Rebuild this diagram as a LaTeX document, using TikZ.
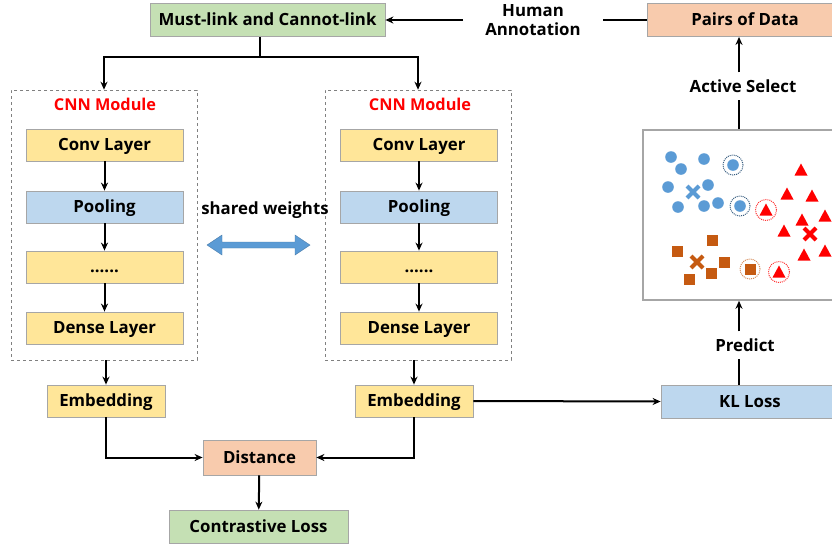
\documentclass[tikz,border=0pt]{standalone}
\usepackage{fontspec}
\setmainfont{Open Sans}
\usetikzlibrary{arrows.meta}
\definecolor{cgreen}{HTML}{C5E0B4}
\definecolor{corange}{HTML}{F8CBAD}
\definecolor{cyellow}{HTML}{FFE699}
\definecolor{cblue}{HTML}{BDD7EE}
\definecolor{cdot}{HTML}{5B9BD5}
\definecolor{cbrown}{HTML}{C55A11}
\definecolor{cborder}{HTML}{A6A6A6}
\begin{document}
\begin{tikzpicture}[x=1pt,y=-1pt,
  box/.style={draw=cborder, line width=0.8pt, minimum height=33pt, inner sep=0pt,
    text height=12pt, text depth=0.5pt,
    font=\bfseries\fontsize{16.8}{18}\selectfont},
  lbl/.style={font=\bfseries\fontsize{16.8}{19}\selectfont, inner sep=0pt},
  arr/.style={line width=2pt, -{Stealth[length=8pt,width=7pt]}},
  ln/.style={line width=2pt},
  dbox/.style={draw=gray, dashed, line width=0.6pt, minimum width=186pt, minimum height=270pt, inner sep=0pt},
]
\useasboundingbox (0,0) rectangle (832,547);
\fill[white] (0,0) rectangle (832,547);

% top row
\node[box, fill=cgreen, minimum width=235pt] (ml) at (267.5,20) {Must-link and Cannot-link};
\node[box, fill=corange, minimum width=196pt] (pd) at (745,20) {Pairs of Data};
\node[lbl, align=center, inner xsep=22pt] (ha) at (533,20) {Human\\Annotation};
\draw[ln] (pd.west) -- (ha.east);
\draw[arr] (ha.west) -- (ml.east);

% split to the two CNN modules
\node[dbox] (cl) at (104,225) {};
\node[dbox] (cr) at (418,225) {};
\coordinate (split) at (260,57);
\draw[ln] (ml.south -| split) -- (split);
\draw[arr] (split) -| (cl.north);
\draw[arr] (split) -| (cr.north);

\node[lbl, text=red, font=\bfseries\fontsize{16.3}{18}\selectfont] (tl) at (105,104) {CNN Module};
\node[lbl, text=red, font=\bfseries\fontsize{16.3}{18}\selectfont] (tr) at (420,104) {CNN Module};

% left column
\node[box, fill=cyellow, minimum width=157pt, minimum height=32pt] (l1) at (104.5,145) {Conv Layer};
\node[box, fill=cblue,   minimum width=157pt, minimum height=32pt] (l2) at (104.5,207) {Pooling};
\node[box, fill=cyellow, minimum width=157pt, minimum height=32pt] (l3) at (104.5,267) {......};
\node[box, fill=cyellow, minimum width=157pt, minimum height=32pt] (l4) at (104.5,328) {Dense Layer};
\draw[arr] (l1) -- (l2);
\draw[arr] (l2) -- (l3);
\draw[arr] (l3) -- (l4);

% right column
\node[box, fill=cyellow, minimum width=157pt, minimum height=32pt] (r1) at (419,145) {Conv Layer};
\node[box, fill=cblue,   minimum width=157pt, minimum height=32pt] (r2) at (419,207) {Pooling};
\node[box, fill=cyellow, minimum width=157pt, minimum height=32pt] (r3) at (419,267) {......};
\node[box, fill=cyellow, minimum width=157pt, minimum height=32pt] (r4) at (419,328) {Dense Layer};
\draw[arr] (r1) -- (r2);
\draw[arr] (r2) -- (r3);
\draw[arr] (r3) -- (r4);

% shared weights
\node[lbl] (sw) at (265,210) {shared weights};
\fill[cdot, draw=cdot!80!black, line width=0.4pt] (207,245) -- (222,235) -- (222,242) -- (295,242) -- (295,235) -- (310,245) -- (295,255) -- (295,248) -- (222,248) -- (222,255) -- cycle;

% embeddings
\node[box, fill=cyellow, minimum width=118pt, minimum height=32pt] (el) at (106,401) {Embedding};
\node[box, fill=cyellow, minimum width=118pt, minimum height=32pt] (er) at (414,401) {Embedding};
\draw[arr] (cl.south -| el.north) -- (el.north);
\draw[arr] (cr.south -| er.north) -- (er.north);

\node[box, fill=corange, minimum width=113pt, minimum height=35pt] (di) at (259.5,457.5) {Distance};
\node[box, fill=cgreen, minimum width=179pt, minimum height=33pt] (co) at (258.5,526.5) {Contrastive Loss};
\draw[arr] (el.south) |- (di.west);
\draw[arr] (er.south) |- (di.east);
\draw[arr] (di) -- (co);

% KL loss branch
\node[box, fill=cblue, minimum width=178pt, minimum height=33pt] (kl) at (750,401.5) {KL Loss};
\draw[arr] (er.east) -- (kl.west);

\node[draw=cborder, line width=1.6pt, minimum width=192pt, minimum height=170pt, inner sep=0pt] (plot) at (739,215) {};
\node[lbl, inner ysep=7pt] (pr) at (745,345) {Predict};
\draw[ln] (kl.north -| plot.south) -- (pr.south -| plot.south);
\draw[arr] (pr.north -| plot.south) -- (plot.south);
\node[lbl, inner ysep=7pt] (as) at (743,86) {Active Select};
\draw[ln] (plot.north) -- (as.south -| plot.north);
\draw[arr] (as.north -| plot.north) -- (pd.south -| plot.north);

% scatter content
\foreach \x/\y in {671/157,704/159,681/169,668/187,708/185,678/207,704/206,718/203,733/165,740/206}
  \fill[cdot] (\x,\y) circle (5.8pt);
\foreach \x/\y in {733/165,740/206}
  \draw[cdot!60!black, densely dotted, line width=1pt] (\x,\y) circle (10pt);
\draw[cdot, line width=4pt] (687,186) -- (699,198) (687,198) -- (699,186);

\foreach \x/\y in {801/170,787/194,812/196,802/220,825/216,784/231,804/255,825/251,766/210,779/272}
  \fill[red] (\x-6.5,\y+5.5) -- (\x+6.5,\y+5.5) -- (\x,\y-6.5) -- cycle;
\foreach \x/\y in {766/210,779/272}
  \draw[red!80, densely dotted, line width=1pt] (\x,\y) circle (10.5pt);
\draw[red, line width=4pt] (804,228) -- (816,240) (804,240) -- (816,228);

\foreach \x/\y in {712/240,677/251,724/262,711/273,689/279,750/269}
  \fill[cbrown] (\x-5.5,\y-5.5) rectangle (\x+5.5,\y+5.5);
\draw[cbrown!70, densely dotted, line width=1pt] (750,269) circle (10pt);
\draw[cbrown, line width=4pt] (691,256) -- (703,268) (691,268) -- (703,256);
\end{tikzpicture}
\end{document}
